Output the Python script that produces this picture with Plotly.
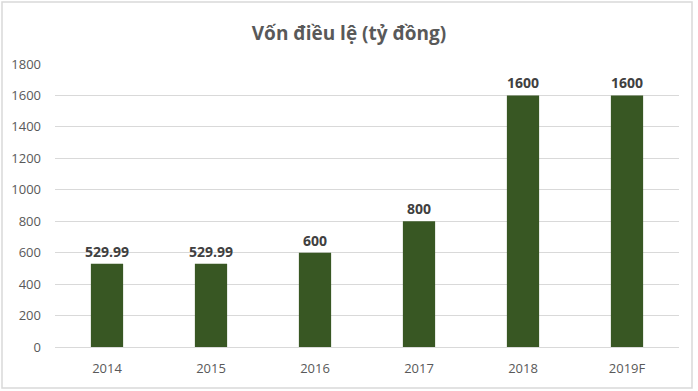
import plotly.graph_objects as go

years = ["2014", "2015", "2016", "2017", "2018", "2019F"]
values = [529.99, 529.99, 600, 800, 1600, 1600]
labels = ["529.99", "529.99", "600", "800", "1600", "1600"]
title = "Vốn điều lệ (tỷ đồng)"

fig = go.Figure(go.Bar(
    x=years, y=values, text=labels, textposition="outside",
    textfont=dict(family="Open Sans", size=14, color="#404040"),
    marker=dict(color="#385723", line=dict(width=0)),
    cliponaxis=False, constraintext="none",
))
fig.update_traces(texttemplate="<b>%{text}</b>")

W, H = 698, 391
ml, mr, mt, mb = 55, 19, 64, 44
pw, ph = W - ml - mr, H - mt - mb

fig.update_layout(
    width=W, height=H,
    margin=dict(l=ml, r=mr, t=mt, b=mb),
    paper_bgcolor="white", plot_bgcolor="white",
    bargap=0.69,
    showlegend=False,
    title=dict(text="<b>" + title + "</b>", x=0.5, xanchor="center",
               y=1 - 33 / H, yanchor="middle",
               font=dict(family="Open Sans", size=19, color="#595959")),
    font=dict(family="Open Sans", color="#595959"),
    xaxis=dict(showgrid=False, showline=False, ticks="",
               ticklabelstandoff=12,
               tickfont=dict(size=13, color="#595959")),
    yaxis=dict(range=[0, 1800], dtick=200, showgrid=True,
               gridcolor="#d9d9d9", gridwidth=1, zeroline=True,
               zerolinecolor="#d9d9d9", zerolinewidth=1,
               ticks="", ticklabelstandoff=13,
               tickfont=dict(size=13, color="#595959")),
    shapes=[dict(type="rect", xref="paper", yref="paper",
                 x0=(2 - ml) / pw, x1=(692 - ml) / pw,
                 y0=(H - mb - 388) / ph, y1=(H - mb - 2) / ph,
                 line=dict(color="#d9d9d9", width=1.5), layer="below")],
)

fig.write_html("out.html", config={"displayModeBar": False},
               post_script="document.body.style.margin='0';document.body.style.overflow='hidden';")
